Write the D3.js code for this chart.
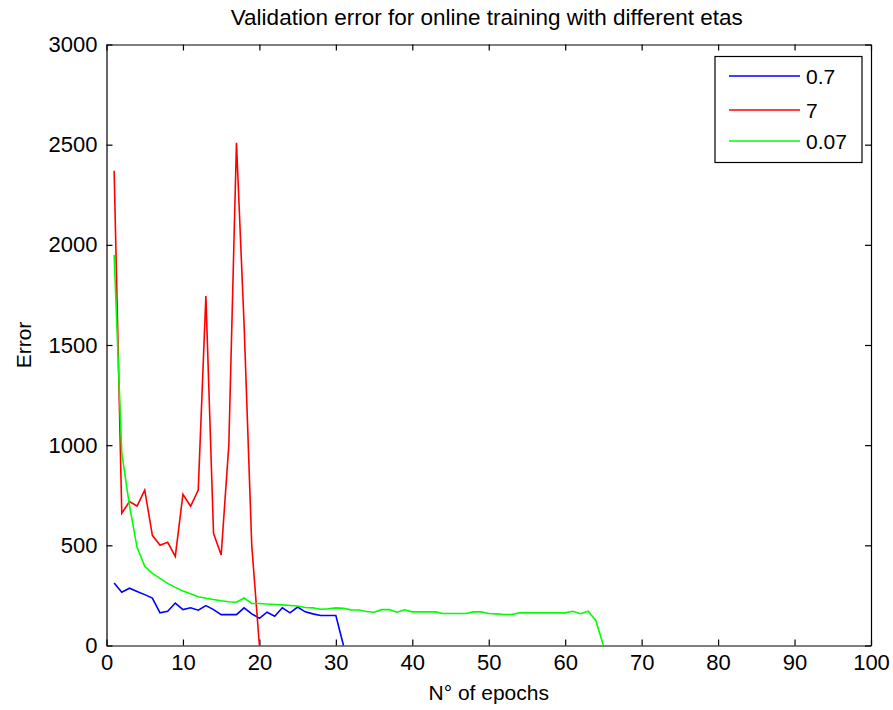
<!DOCTYPE html>
<html lang="en">
    <head>
        <meta charset="utf-8">
        <title>Validation error</title>
        <script type="text/javascript" src="https://cdn.jsdelivr.net/npm/d3@7"></script>
    </head>

    <style>
        body { margin: 0; background: white; }
        text { font-family: "Liberation Sans", Arial, sans-serif; fill: #000; }
        .axis path, .axis line { stroke: #000; stroke-width: 1.2; }
        .axis text { font-size: 22px; }
    </style>

    <body>
        <script type="text/javascript">

            // Error per epoch (epoch 1, 2, 3, ...) for each eta
            var eta07 = [312, 266, 286, 270, 254, 237, 163, 171, 212, 179,
                         188, 176, 199, 179, 154, 154, 154, 188, 158, 136,
                         166, 146, 188, 163, 192, 168, 158, 150, 150, 150, 0];
            var eta7 = [2370, 660, 718, 696, 776, 550, 500, 515, 445, 755,
                        695, 776, 1745, 560, 452, 1000, 2510, 1600, 500, 0];
            var eta007 = [1950, 960, 700, 490, 395, 360, 335, 310, 290, 272,
                          258, 243, 236, 230, 223, 218, 216, 237, 210, 210,
                          207, 205, 203, 200, 197, 190, 188, 181, 183, 188,
                          186, 178, 177, 170, 166, 179, 179, 166, 178, 168,
                          168, 168, 168, 160, 160, 160, 160, 168, 168, 160,
                          158, 155, 155, 163, 163, 163, 163, 163, 163, 163,
                          171, 159, 171, 125, 0];

            var seriesNames = ["0.7", "7", "0.07"];
            var seriesColors = ["#0000ff", "#ff0000", "#00ff00"];
            var xTicks = [0, 10, 20, 30, 40, 50, 60, 70, 80, 90, 100];
            var yTicks = [0, 500, 1000, 1500, 2000, 2500, 3000];

            drawChart();

            function drawChart() {
                var w = 893, h = 710;
                // plot box edges (note: "top" is a reserved window global, so use pTop etc.)
                var pLeft = 106.5, pRight = 871, pTop = 44.5, pBottom = 645.5;

                var svg = d3.select("body").append("svg").attr("width", w).attr("height", h);

                var x = d3.scaleLinear().domain([0, 100]).range([pLeft, pRight]);
                var y = d3.scaleLinear().domain([0, 3000]).range([pBottom, pTop]);

                // axes, ticks pointing inwards (box on all four sides)
                svg.append("g").attr("class", "axis")
                    .attr("transform", "translate(0," + pBottom + ")")
                    .call(d3.axisBottom(x).tickValues(xTicks).tickSize(-6).tickPadding(9).tickSizeOuter(0));
                svg.append("g").attr("class", "axis")
                    .attr("transform", "translate(0," + pTop + ")")
                    .call(d3.axisTop(x).tickValues(xTicks).tickSize(-6).tickSizeOuter(0).tickFormat(""));
                svg.append("g").attr("class", "axis")
                    .attr("transform", "translate(" + pLeft + ",0)")
                    .call(d3.axisLeft(y).tickValues(yTicks).tickSize(-6).tickPadding(9)
                        .tickSizeOuter(0).tickFormat(d3.format("d")));
                svg.append("g").attr("class", "axis")
                    .attr("transform", "translate(" + pRight + ",0)")
                    .call(d3.axisRight(y).tickValues(yTicks).tickSize(-6).tickSizeOuter(0).tickFormat(""));

                // data lines
                var line = d3.line()
                    .x(function(d, i) { return x(i + 1); })
                    .y(function(d) { return y(d); });

                [eta07, eta7, eta007].forEach(function(s, k) {
                    svg.append("path")
                        .datum(s)
                        .attr("d", line)
                        .attr("fill", "none")
                        .attr("stroke", seriesColors[k])
                        .attr("stroke-width", 1.6);
                });

                // legend
                var lg = svg.append("g").attr("transform", "translate(715,56.5)");
                lg.append("rect").attr("width", 147).attr("height", 106)
                    .attr("fill", "white").attr("stroke", "#000").attr("stroke-width", 1.2);
                var rows = [19.5, 53.5, 84.5];
                seriesNames.forEach(function(name, k) {
                    lg.append("line").attr("x1", 14).attr("x2", 85)
                        .attr("y1", rows[k]).attr("y2", rows[k])
                        .attr("stroke", seriesColors[k]).attr("stroke-width", 1.6);
                    lg.append("text").attr("x", 91).attr("y", rows[k] + 8)
                        .style("font-size", "21px").text(name);
                });

                // titles
                svg.append("text").attr("x", (pLeft + pRight) / 2 - 2).attr("y", 25)
                    .attr("text-anchor", "middle").style("font-size", "22.5px")
                    .text("Validation error for online training with different etas");
                svg.append("text").attr("x", (pLeft + pRight) / 2).attr("y", 700)
                    .attr("text-anchor", "middle").style("font-size", "21px")
                    .text("N° of epochs");
                svg.append("text")
                    .attr("transform", "translate(31," + (pTop + pBottom) / 2 + ") rotate(-90)")
                    .attr("text-anchor", "middle").style("font-size", "21px")
                    .text("Error");
            }
        </script>
    </body>
</html>
